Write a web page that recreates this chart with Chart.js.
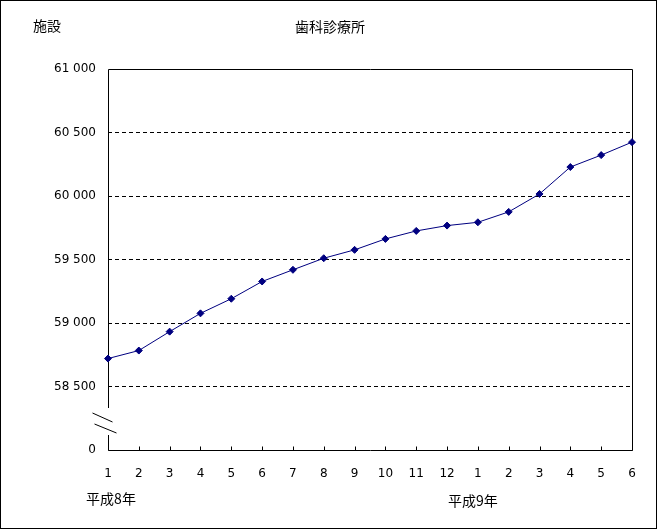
<!DOCTYPE html>
<html><head><meta charset="utf-8">
<script src="https://cdn.jsdelivr.net/npm/chart.js@4"></script>
<style>html,body{margin:0;padding:0;background:#fff}canvas{display:block}</style>
</head><body>
<canvas id="c" width="657" height="529"></canvas>
<script>
const categories = ['1','2','3','4','5','6','7','8','9','10','11','12','1','2','3','4','5','6'];
const values = [58720,58783,58932,59076,59191,59327,59419,59510,59576,59662,59725,59767,59793,59875,60016,60228,60322,60424];
const yTickValues = [58000,58500,59000,59500,60000,60500,61000];
const yTickLabels = ['0','58 500','59 000','59 500','60 000','60 500','61 000'];
const yearLabels = ['平成8年','平成9年'];
const yearIndex = [0,12];
const titleText = '歯科診療所';
const unitText = '施設';
const breakRange = [58115, 58330];

const NUM_FONT = "'DejaVu Sans', sans-serif";
const CJK_FONT = "'Noto Sans CJK JP', sans-serif";

const decor = {
  id: 'decor',
  beforeDraw(chart) {
    const ctx = chart.ctx;
    ctx.save();
    ctx.fillStyle = '#fff';
    ctx.fillRect(0, 0, chart.width, chart.height);
    ctx.restore();
  },
  beforeDatasetsDraw(chart) {
    const ctx = chart.ctx, a = chart.chartArea;
    const y = chart.scales.y, x = chart.scales.x;
    const L = Math.round(a.left) + 0.5, R = Math.round(a.right) + 0.5;
    const T = Math.round(a.top) + 0.5, B = Math.round(a.bottom) + 0.5;
    const yT = Math.round(y.getPixelForValue(breakRange[1]));
    const yB = Math.round(y.getPixelForValue(breakRange[0]));
    ctx.save();
    ctx.strokeStyle = '#000';
    ctx.lineWidth = 1;
    ctx.beginPath();
    ctx.moveTo(L, yT); ctx.lineTo(L, T); ctx.lineTo(R, T); ctx.lineTo(R, B); ctx.lineTo(L, B); ctx.lineTo(L, yB);
    ctx.stroke();
    ctx.beginPath();
    ctx.moveTo(L - 16, yT + 5); ctx.lineTo(L + 4, yT + 14);
    ctx.moveTo(L - 14, yB - 11); ctx.lineTo(L + 8, yB - 2);
    ctx.stroke();
    ctx.beginPath();
    for (let i = 0; i < categories.length; i++) {
      const px = Math.round(x.getPixelForTick(i)) + 0.5;
      ctx.moveTo(px, B); ctx.lineTo(px, B - 4);
    }
    ctx.stroke();
    ctx.restore();
  },
  afterDraw(chart) {
    const ctx = chart.ctx, x = chart.scales.x;
    ctx.save();
    ctx.fillStyle = '#000';
    ctx.textBaseline = 'middle';
    ctx.font = '14px ' + CJK_FONT;
    ctx.textAlign = 'center';
    ctx.fillText(titleText, 330, 27);
    ctx.textAlign = 'left';
    ctx.fillText(unitText, 33, 26);
    ctx.textAlign = 'center';
    ctx.fillText(yearLabels[0], x.getPixelForTick(yearIndex[0]) + 3, 499);
    ctx.fillText(yearLabels[1], x.getPixelForTick(yearIndex[1]) - 5, 501);
    ctx.strokeStyle = '#000';
    ctx.lineWidth = 1;
    ctx.strokeRect(0.5, 0.5, chart.width - 1, chart.height - 1);
    ctx.restore();
  }
};

new Chart(document.getElementById('c'), {
  type: 'line',
  data: {
    labels: categories,
    datasets: [{
      data: values,
      borderColor: '#000080',
      backgroundColor: '#000080',
      borderWidth: 1,
      pointStyle: 'rectRot',
      pointRadius: 3.5,
      pointBorderWidth: 1,
      pointBackgroundColor: '#000080',
      pointBorderColor: '#000080',
      tension: 0
    }]
  },
  options: {
    responsive: false,
    animation: false,
    devicePixelRatio: 1,
    layout: { padding: { top: 69, right: 25, left: 0, bottom: 0 } },
    plugins: { legend: { display: false }, tooltip: { enabled: false }, title: { display: false } },
    scales: {
      x: {
        offset: false,
        grid: { display: false, drawTicks: false },
        border: { display: false },
        ticks: { color: '#000', font: { family: NUM_FONT, size: 12 }, padding: 17, maxRotation: 0, autoSkip: false },
        afterFit(s) { s.height = 79; }
      },
      y: {
        min: 58000, max: 61000,
        afterBuildTicks(s) { s.ticks = yTickValues.map(v => ({ value: v })); },
        grid: {
          drawTicks: false,
          color(ctx) { const v = ctx.tick && ctx.tick.value; return (v === 58000 || v === 61000) ? 'rgba(0,0,0,0)' : '#000'; },
          lineWidth: 1
        },
        border: { display: false, dash: [4, 3] },
        ticks: {
          color: '#000', font: { family: NUM_FONT, size: 12 }, padding: 12,
          callback(v) { const i = yTickValues.indexOf(v); return i >= 0 ? yTickLabels[i] : ''; }
        },
        afterFit(s) { s.width = 108; }
      }
    }
  },
  plugins: [decor]
});
</script>
</body></html>
